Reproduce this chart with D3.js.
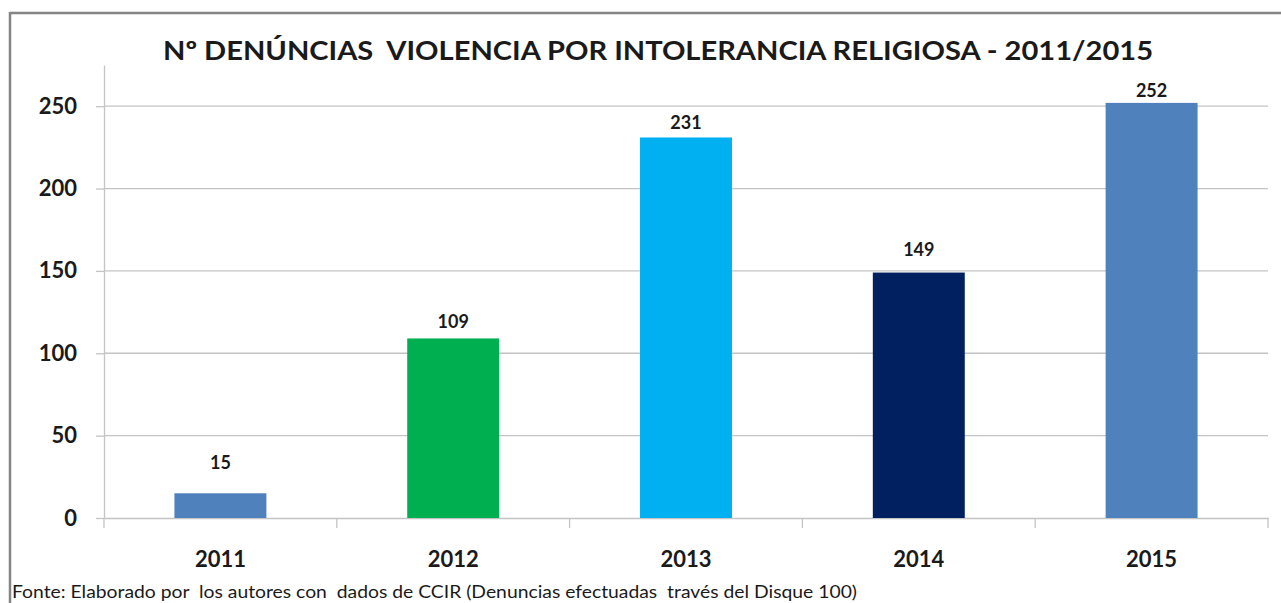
<!DOCTYPE html>
<html>
<head>
<meta charset="utf-8">
<script src="https://cdn.jsdelivr.net/npm/d3@7"></script>
<style>
  body { margin: 0; background: #fff; }
  text { font-family: Lato, "Open Sans", sans-serif; fill: #1a1a1a; }
</style>
</head>
<body>
<svg width="1281" height="603"></svg>
<script>
const years = ['2011', '2012', '2013', '2014', '2015'];
const counts = [15, 109, 231, 149, 252];
const barColors = ['#4F81BD', '#00B050', '#00B0F0', '#002060', '#4F81BD'];
const yTicks = [0, 50, 100, 150, 200, 250];
const title = 'Nº DENÚNCIAS  VIOLENCIA POR INTOLERANCIA RELIGIOSA - 2011/2015';
const source = 'Fonte: Elaborado por  los autores con  dados de CCIR (Denuncias efectuadas  través del Disque 100)';

const svg = d3.select('svg');

const data = years.map((y, i) => ({ year: y, value: counts[i], color: barColors[i] }));

// plot area
const plotLeft = 104, plotRight = 1268, plotTop = 65, plotBottom = 518;

const xScale = d3.scaleBand()
    .domain(years)
    .range([plotLeft, plotRight])
    .paddingInner(0.605)
    .paddingOuter(0.3025);

const yScale = d3.scaleLinear()
    .domain([0, 275])
    .range([plotBottom, plotTop]);

// frame
svg.append('line')
    .attr('x1', 10).attr('x2', 1281).attr('y1', 13).attr('y2', 13)
    .attr('stroke', '#858585').attr('stroke-width', 2.5);
svg.append('line')
    .attr('x1', 10).attr('x2', 10).attr('y1', 12).attr('y2', 603)
    .attr('stroke', '#858585').attr('stroke-width', 2.5);

// gridlines
svg.append('g')
    .selectAll('line').data(yTicks.filter(d => d > 0))
    .enter().append('line')
    .attr('x1', plotLeft).attr('x2', plotRight)
    .attr('y1', d => yScale(d)).attr('y2', d => yScale(d))
    .attr('stroke', '#c4c4c4').attr('stroke-width', 1.3);

// y axis
const yAxisG = svg.append('g')
    .attr('transform', `translate(${plotLeft},0)`)
    .call(d3.axisLeft(yScale).tickValues(yTicks).tickSize(8).tickSizeOuter(0).tickPadding(19));
yAxisG.select('.domain').attr('stroke', '#c4c4c4').attr('stroke-width', 1.3);
yAxisG.selectAll('.tick line').attr('stroke', '#c4c4c4').attr('stroke-width', 1.3);
yAxisG.selectAll('.tick text')
    .attr('font-family', 'Lato, sans-serif')
    .attr('font-size', 22).attr('font-weight', 700).attr('fill', '#1a1a1a');

// x axis
const xAxisG = svg.append('g')
    .attr('transform', `translate(0,${plotBottom})`)
    .call(d3.axisBottom(xScale).tickSize(0).tickSizeOuter(0).tickPadding(33));
xAxisG.select('.domain').attr('stroke', '#c4c4c4').attr('stroke-width', 1.3);
xAxisG.selectAll('.tick text')
    .attr('font-family', 'Lato, sans-serif')
    .attr('font-size', 22).attr('font-weight', 700).attr('fill', '#1a1a1a');

// category boundary ticks
const step = xScale.step();
xAxisG.selectAll('.sep').data(d3.range(years.length + 1))
    .enter().append('line')
    .attr('class', 'sep')
    .attr('x1', i => plotLeft + i * step).attr('x2', i => plotLeft + i * step)
    .attr('y1', 0).attr('y2', 10)
    .attr('stroke', '#c4c4c4').attr('stroke-width', 1.3);

// bars
svg.append('g').selectAll('rect').data(data)
    .enter().append('rect')
    .attr('x', d => xScale(d.year))
    .attr('y', d => yScale(d.value))
    .attr('width', xScale.bandwidth())
    .attr('height', d => plotBottom - yScale(d.value))
    .attr('fill', d => d.color);

// value labels (gaps as placed in the original)
const labelGap = [24, 10, 8, 17, 6];
svg.append('g').selectAll('text').data(data)
    .enter().append('text')
    .attr('x', d => xScale(d.year) + xScale.bandwidth() / 2)
    .attr('y', (d, i) => yScale(d.value) - labelGap[i])
    .attr('text-anchor', 'middle')
    .attr('font-size', 18).attr('font-weight', 700)
    .text(d => d.value);

// title
svg.append('text')
    .attr('x', 163).attr('y', 60)
    .style('white-space', 'pre')
    .attr('font-size', 26).attr('font-weight', 700)
    .attr('textLength', 990).attr('lengthAdjust', 'spacingAndGlyphs')
    .text(title);

// source note
svg.append('text')
    .attr('x', 12).attr('y', 598)
    .style('white-space', 'pre')
    .attr('font-size', 17)
    .attr('textLength', 845).attr('lengthAdjust', 'spacingAndGlyphs')
    .text(source);
</script>
</body>
</html>
